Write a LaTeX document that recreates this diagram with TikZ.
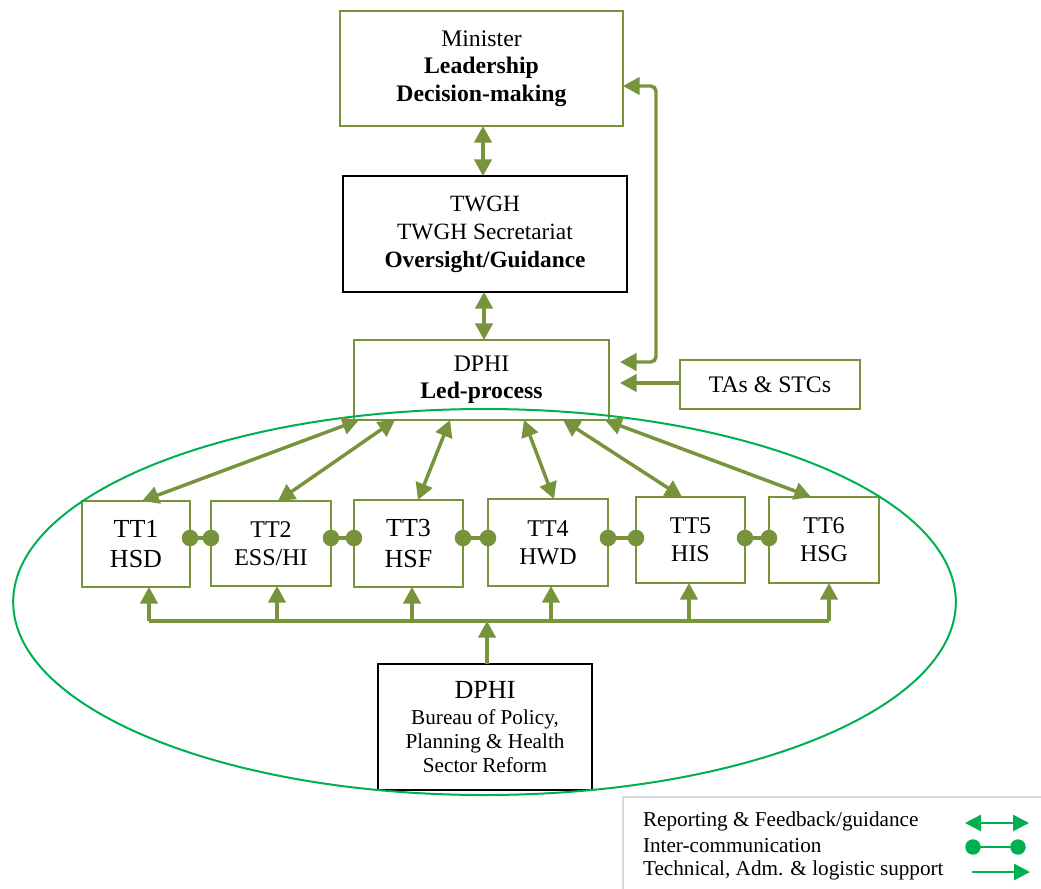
\documentclass[tikz,border=0pt]{standalone}
\usepackage{fontspec}
\setmainfont{Liberation Serif}
\usetikzlibrary{arrows.meta,calc}
\definecolor{olive}{HTML}{77933C}
\definecolor{ovalgreen}{HTML}{00B050}
\definecolor{legendframe}{HTML}{D5DAE2}

\begin{document}
\begin{tikzpicture}[x=0.75pt,y=-0.75pt,
  every node/.style={inner sep=0pt, outer sep=0pt, align=center},
  obox/.style={draw=olive, line width=1.8pt, fill=white},
  kbox/.style={draw=black, line width=1.8pt, fill=white},
  rep/.style={draw=olive, line width=2.6pt, {Triangle[length=12.5pt,width=13pt]}-{Triangle[length=12.5pt,width=13pt]}},
  supp/.style={draw=olive, line width=2.6pt, -{Triangle[length=12.5pt,width=13pt]}},
  link/.style={draw=olive, line width=2.6pt},
  big/.style={font=\fontsize{17.8}{20.5}\selectfont},
  ttfont/.style={font=\fontsize{18}{21}\selectfont},
  ttlarge/.style={font=\fontsize{19.5}{23}\selectfont},
  lgfont/.style={font=\fontsize{15.9}{18}\selectfont},
]
\useasboundingbox (0,0) rectangle (1041,888);

% --- hierarchy boxes ---
\node[obox, big, minimum width=212.25pt, minimum height=86.25pt] (min) at (481.5,68.5)
  {Minister\\\textbf{Leadership}\\\textbf{Decision-making}};
\node[kbox, font=\fontsize{17.5}{21}\selectfont, minimum width=213pt, minimum height=87pt] (twgh) at (485,234)
  {TWGH\\TWGH Secretariat\\\textbf{Oversight/Guidance}};
\node[obox, big, minimum width=191.25pt, minimum height=60pt] (dphi) at (481.5,380)
  {DPHI\\\textbf{Led-process}};
\node[obox, big, minimum width=135pt, minimum height=36.75pt] (tas) at (770,384.5)
  {TAs \& STCs};

% --- technical teams ---
\node[obox, ttlarge, minimum width=81pt,    minimum height=64.5pt]  (tt1) at (136,544)   {TT1\\HSD};
\node[obox, ttfont,  minimum width=90pt,    minimum height=63.75pt] (tt2) at (271,543.5) {TT2\\ESS/HI};
\node[obox, ttlarge, minimum width=81.75pt, minimum height=65.25pt] (tt3) at (408.5,543.5) {TT3\\HSF};
\node[obox, ttfont,  minimum width=90pt,    minimum height=65.25pt] (tt4) at (548,542.5) {TT4\\HWD};
\node[obox, ttfont,  minimum width=81.75pt, minimum height=64.5pt]  (tt5) at (690.5,540) {TT5\\HIS};
\node[obox, ttfont,  minimum width=82.5pt,  minimum height=64.5pt]  (tt6) at (824,540)   {TT6\\HSG};

% --- bureau ---
\node[kbox, font=\fontsize{15.9}{18}\selectfont, minimum width=160.5pt, minimum height=94.5pt] (bpp) at (485,727)
  {\fontsize{19.6}{22}\selectfont DPHI\\[1pt]
   \fontsize{15.9}{18}\selectfont Bureau of Policy,\\Planning \& Health\\Sector Reform};

% --- enclosing oval ---
\draw[ovalgreen, line width=1.5pt] (484.5,602) ellipse [x radius=353.5pt, y radius=144.75pt];

% --- reporting links along the hierarchy ---
\draw[rep] (min.south -| 483,0) -- (twgh.north -| 483,0);
\draw[rep] (twgh.south -| 484,0) -- (dphi.north -| 484,0);
\coordinate (rt) at ($(dphi.east |- 0,362)+(11,0)$);
\draw[rep, rounded corners=4pt] (min.east |- 0,86) -- (656,86) -- (656,362) -- (rt);
\coordinate (ta) at ($(dphi.east |- 0,383)+(11,0)$);
\draw[supp] (tas.west |- 0,383) -- (ta);

% --- reporting links from DPHI to each team ---
\draw[rep] ($(dphi.south)+(-122.5,0)$) -- ($(tt1.north)+(6,0)$);
\draw[rep] ($(dphi.south)+(-86.5,0)$)  -- ($(tt2.north)+(7,0)$);
\draw[rep] ($(dphi.south)+(-31.5,0)$)  -- ($(tt3.north)+(9.5,0)$);
\draw[rep] ($(dphi.south)+(42.5,0)$)   -- ($(tt4.north)+(6,0)$);
\draw[rep] ($(dphi.south)+(81.5,0)$)   -- ($(tt5.north)+(-8.5,0)$);
\draw[rep] ($(dphi.south)+(123.5,0)$)  -- ($(tt6.north)+(-13,0)$);

% --- inter-communication between neighbouring teams ---
\foreach \a/\b in {tt1/tt2,tt2/tt3,tt3/tt4,tt4/tt5,tt5/tt6}{
  \draw[link] (\a.east |- 0,538) -- (\b.west |- 0,538);
  \fill[olive] (\a.east |- 0,538) circle[radius=6.2pt] (\b.west |- 0,538) circle[radius=6.2pt];
}

% --- support bus from the bureau ---
\coordinate (b1) at (149,621);
\coordinate (b2) at (277,621);
\coordinate (b3) at (412,621);
\coordinate (b4) at (551,621);
\coordinate (b5) at (689,621);
\coordinate (b6) at (829,621);
\coordinate (bc) at (487,621);
\draw[link] (b1) -- (b6);
\foreach \i in {1,...,6}{\draw[supp] (b\i) -- (b\i |- tt\i.south);}
\draw[supp] (bpp.north -| bc) -- (bc);

% --- legend ---
\draw[legendframe, line width=1.2pt] (1050,797) -- (623,797) -- (623,895);
\node[lgfont, anchor=base west] (l1) at (643,826) {Reporting \& Feedback/guidance};
\node[lgfont, anchor=base west] (l2) at (643,852) {Inter-communication};
\node[lgfont, anchor=base west] (l3) at (643,875) {Technical, Adm. \& logistic support};
\coordinate (k1a) at (965,823); \coordinate (k1b) at (1029,823);
\coordinate (k2a) at (973,847); \coordinate (k2b) at (1018,847);
\coordinate (k3a) at (972,872); \coordinate (k3b) at (1030,872);
\draw[ovalgreen, line width=1.9pt, {Triangle[length=12pt,width=12pt]}-{Triangle[length=12pt,width=12pt]}] (k1a) -- (k1b);
\draw[ovalgreen, line width=1.9pt] (k2a) -- (k2b);
\fill[ovalgreen] (k2a) circle[radius=5.8pt] (k2b) circle[radius=5.8pt];
\draw[ovalgreen, line width=1.9pt, -{Triangle[length=12pt,width=12pt]}] (k3a) -- (k3b);
\end{tikzpicture}
\end{document}
